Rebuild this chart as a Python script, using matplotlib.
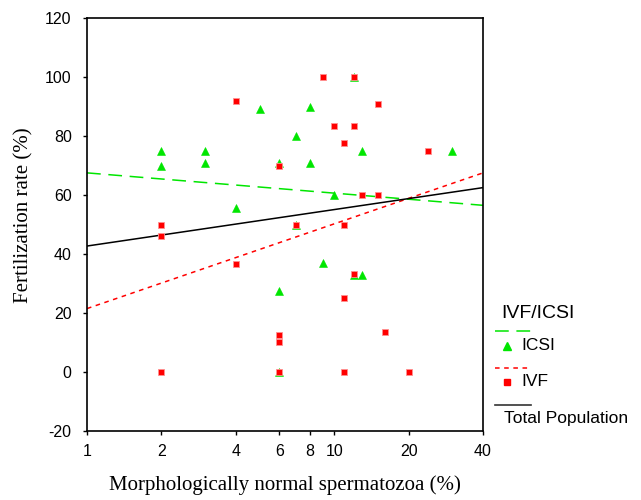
import numpy as np
import matplotlib
matplotlib.use('Agg')
import matplotlib.pyplot as plt
from matplotlib.lines import Line2D
from matplotlib.ticker import FixedLocator, FixedFormatter, NullLocator

plt.rcParams['axes.unicode_minus'] = False

# ICSI points (morphology %, fertilization rate %)
icsi_x = [12, 5, 8, 7, 2, 3, 13, 30, 2, 3, 6, 8, 10, 4, 7, 9, 12, 13, 6, 6]
icsi_y = [100, 89, 90, 80, 75, 75, 75, 75, 70, 71, 71, 71, 60, 55.7, 50, 36.8, 33, 33, 27.6, 0]

# IVF points
ivf_x = [9, 12, 4, 15, 10, 12, 11, 24, 6, 13, 15, 2, 2, 7, 11, 4, 12, 11, 6, 6, 16, 2, 6, 11, 20]
ivf_y = [100, 100, 92, 90.7, 83.3, 83.3, 77.7, 75, 70, 60, 60, 50, 46, 50, 50, 36.6, 33.3, 25,
         12.5, 10.2, 13.4, 0, 0, 0, 0]

# fitted lines (ends at x = 1 and x = 40)
fit_x = [1, 40]
icsi_fit = [67.5, 56.5]
ivf_fit = [21.5, 67.5]
total_fit = [42.7, 62.5]

x_ticks = [1, 2, 4, 6, 8, 10, 20, 40]
y_ticks = [-20, 0, 20, 40, 60, 80, 100, 120]

green = '#00e600'
red = '#ff0000'

fig = plt.figure(figsize=(6.41, 5), dpi=100)
ax = fig.add_axes([87/641, 69/500, 396/641, 413/500])

ax.plot(fit_x, icsi_fit, color=green, lw=1.1, dashes=(9, 5))
ax.plot(fit_x, ivf_fit, color=red, lw=1.1, dashes=(3, 3))
ax.plot(fit_x, total_fit, color='black', lw=1.1)

ax.plot(icsi_x, icsi_y, ls='none', marker='^', ms=5.5, color=green, mec=green, mew=0.4, clip_on=False)
ax.plot(ivf_x, ivf_y, ls='none', marker='s', ms=4.2, color=red, mec='#ff9090', mew=0.6, clip_on=False)

ax.set_xscale('log')
ax.set_xlim(1, 40)
ax.set_ylim(-20, 120)
ax.xaxis.set_major_locator(FixedLocator(x_ticks))
ax.xaxis.set_major_formatter(FixedFormatter([str(t) for t in x_ticks]))
ax.xaxis.set_minor_locator(NullLocator())
ax.set_yticks(y_ticks)

for lab in ax.get_xticklabels() + ax.get_yticklabels():
    lab.set_fontfamily('Liberation Sans')
    lab.set_fontsize(11.5)
ax.tick_params(direction='out', length=3, width=1)
ax.tick_params(axis='y', pad=8)
ax.tick_params(axis='x', pad=6.5)
for s in ax.spines.values():
    s.set_linewidth(1.2)

ax.set_xlabel('Morphologically normal spermatozoa (%)', family='Liberation Serif', size=15)
ax.set_ylabel('Fertilization rate (%)', family='Liberation Serif', size=15)
ax.xaxis.set_label_coords(0.5, -0.1065)
ax.yaxis.set_label_coords(-0.134, 0.523)

# legend drawn at the right of the plot, in figure pixels
def fx(px):
    return px / 641

def fy(py):
    return 1 - py / 500

leg_font = dict(family='Liberation Sans', size=12.5)
fig.text(fx(501), fy(313), 'IVF/ICSI', ha='left', va='center', family='Liberation Sans', size=14)
fig.add_artist(Line2D([fx(495), fx(531)], [fy(331), fy(331)], color=green, lw=1.1, dashes=(9, 5)))
fig.add_artist(Line2D([fx(507)], [fy(346)], ls='none', marker='^', ms=5.5, color=green))
fig.text(fx(521), fy(346), 'ICSI', ha='left', va='center', **leg_font)
fig.add_artist(Line2D([fx(495), fx(531)], [fy(368), fy(368)], color=red, lw=1.1, dashes=(3, 3)))
fig.add_artist(Line2D([fx(507)], [fy(382)], ls='none', marker='s', ms=4.2, color=red))
fig.text(fx(521), fy(382), 'IVF', ha='left', va='center', **leg_font)
fig.add_artist(Line2D([fx(495), fx(531)], [fy(405), fy(405)], color='#333333', lw=1.2))
fig.text(fx(504), fy(419), 'Total Population', ha='left', va='center', **leg_font)

fig.savefig('out.png', dpi=100)
